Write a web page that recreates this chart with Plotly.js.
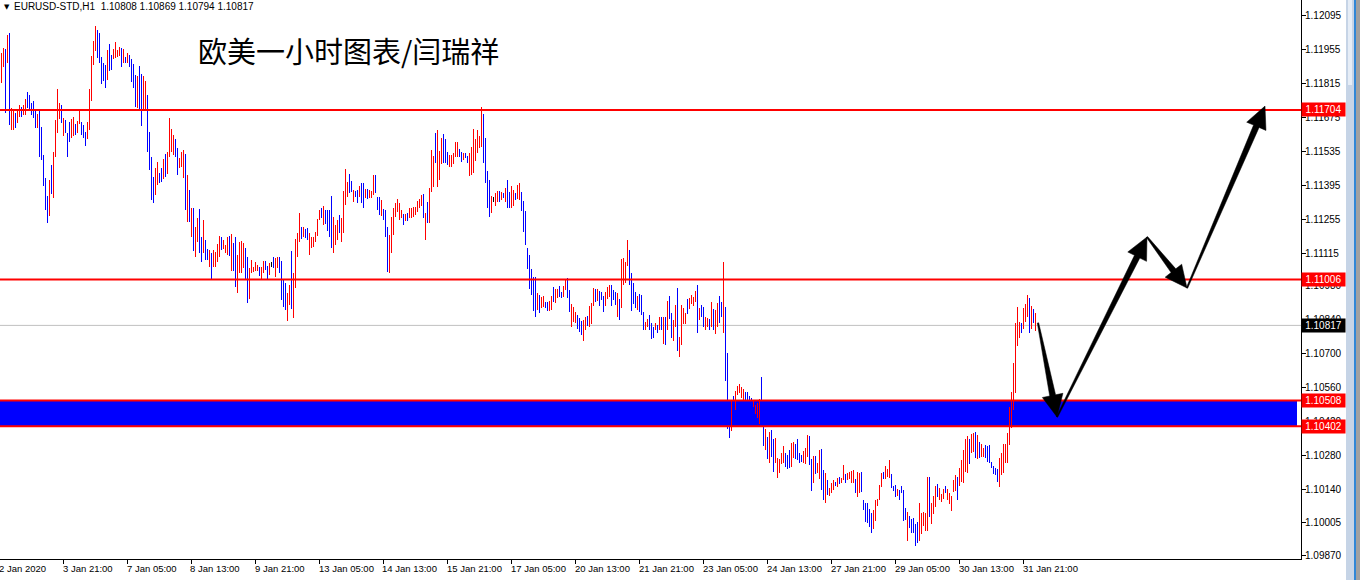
<!DOCTYPE html>
<html><head><meta charset="utf-8">
<script src="https://cdn.plot.ly/plotly-3.0.1.min.js"></script>
<style>html,body{margin:0;padding:0;background:#fff;overflow:hidden}#chart{width:1360px;height:580px}</style>
</head><body><div id="chart"></div>
<script>
// ---- data (EURUSD-STD, H1, bars from 2 Jan 2020) ----
const barHigh = [
1.11938,1.11958,1.11954,1.12013,1.12020,1.11711,1.11704,1.11691,1.11698,1.11725,
1.11715,1.11725,1.11748,1.11776,1.11766,1.11732,1.11739,1.11698,1.11688,1.11704,
1.11633,1.11519,1.11423,1.11350,1.11416,1.11478,1.11529,1.11663,1.11791,1.11732,
1.11725,1.11670,1.11663,1.11608,1.11656,1.11666,1.11674,1.11647,1.11660,1.11704,
1.11656,1.11643,1.11615,1.11656,1.11791,1.11927,1.11986,1.12048,1.12034,1.12023,
1.11924,1.11899,1.11890,1.11951,1.11976,1.11931,1.11954,1.11982,1.11949,1.11965,
1.11958,1.11954,1.11924,1.11938,1.11931,1.11913,1.11892,1.11849,1.11842,1.11886,
1.11853,1.11842,1.11825,1.11766,1.11615,1.11510,1.11430,1.11464,1.11488,1.11444,
1.11464,1.11501,1.11523,1.11533,1.11670,1.11625,1.11602,1.11584,1.11547,1.11505,
1.11529,1.11540,1.11523,1.11437,1.11375,1.11300,1.11300,1.11221,1.11258,1.11295,
1.11183,1.11252,1.11169,1.11131,1.11128,1.11117,1.11128,1.11121,1.11153,1.11186,
1.11183,1.11169,1.11149,1.11180,1.11186,1.11194,1.11158,1.11180,1.11107,1.11162,
1.11166,1.11158,1.11135,1.11098,1.11053,1.11087,1.11059,1.11080,1.11066,1.11057,
1.11059,1.11082,1.11082,1.11061,1.11072,1.11077,1.11100,1.11093,1.11100,1.11100,
1.11082,1.11004,1.10990,1.10952,1.10983,1.11125,1.11031,1.11171,1.11196,1.11281,
1.11223,1.11223,1.11214,1.11217,1.11196,1.11180,1.11182,1.11203,1.11254,1.11292,
1.11299,1.11309,1.11292,1.11292,1.11292,1.11350,1.11265,1.11230,1.11251,1.11271,
1.11258,1.11372,1.11461,1.11409,1.11440,1.11413,1.11374,1.11372,1.11374,1.11391,
1.11405,1.11402,1.11377,1.11377,1.11374,1.11372,1.11436,1.11436,1.11347,1.11344,
1.11333,1.11295,1.11292,1.11223,1.11189,1.11262,1.11299,1.11320,1.11336,1.11320,
1.11292,1.11276,1.11276,1.11278,1.11299,1.11302,1.11303,1.11303,1.11331,1.11336,
1.11354,1.11358,1.11281,1.11326,1.11381,1.11539,1.11514,1.11608,1.11621,1.11536,
1.11587,1.11605,1.11583,1.11532,1.11519,1.11519,1.11525,1.11573,1.11573,1.11542,
1.11532,1.11528,1.11525,1.11514,1.11525,1.11553,1.11624,1.11583,1.11621,1.11597,
1.11718,1.11687,1.11587,1.11454,1.11416,1.11350,1.11347,1.11363,1.11372,1.11372,
1.11368,1.11363,1.11381,1.11416,1.11368,1.11391,1.11374,1.11363,1.11395,1.11402,
1.11365,1.11330,1.11290,1.11135,1.11107,1.11048,1.11018,1.11015,1.10949,1.10942,
1.10935,1.10938,1.10915,1.10915,1.10919,1.10938,1.10974,1.10966,1.10966,1.10979,
1.10956,1.10979,1.11004,1.11011,1.10963,1.10905,1.10892,1.10874,1.10860,1.10846,
1.10837,1.10839,1.10850,1.10856,1.10897,1.10911,1.10970,1.10966,1.10966,1.10960,
1.10956,1.10938,1.10956,1.10977,1.10984,1.10984,1.10963,1.10956,1.10952,1.10925,
1.11089,1.11093,1.11080,1.11169,1.11128,1.11032,1.10990,1.10956,1.10938,1.10946,
1.10942,1.10874,1.10833,1.10842,1.10860,1.10828,1.10812,1.10826,1.10819,1.10850,
1.10850,1.10850,1.10850,1.10919,1.10938,1.10870,1.10839,1.10901,1.10970,1.10771,
1.10901,1.10887,1.10867,1.10925,1.10929,1.10942,1.10935,1.10959,1.10984,1.10887,
1.10901,1.10892,1.10850,1.10846,1.10842,1.10915,1.10883,1.10881,1.10911,1.10938,
1.10915,1.11080,1.10894,1.10705,1.10407,1.10507,1.10526,1.10547,1.10568,1.10576,
1.10565,1.10554,1.10544,1.10544,1.10526,1.10517,1.10510,1.10489,1.10499,1.10513,
1.10606,1.10400,1.10389,1.10359,1.10380,1.10386,1.10348,1.10352,1.10270,1.10266,
1.10290,1.10320,1.10293,1.10283,1.10304,1.10331,1.10338,1.10327,1.10348,1.10293,
1.10283,1.10301,1.10311,1.10366,1.10362,1.10266,1.10279,1.10279,1.10252,1.10304,
1.10307,1.10222,1.10211,1.10180,1.10146,1.10170,1.10180,1.10174,1.10187,1.10191,
1.10187,1.10242,1.10205,1.10211,1.10215,1.10219,1.10222,1.10183,1.10215,1.10211,
1.10215,1.10098,1.10087,1.10084,1.10060,1.10043,1.10057,1.10098,1.10101,1.10160,
1.10211,1.10215,1.10238,1.10224,1.10263,1.10205,1.10156,1.10160,1.10142,1.10139,
1.10156,1.10139,1.10064,1.10050,1.10032,1.10019,1.10023,1.09999,1.10009,1.10087,
1.10043,1.10050,1.10046,1.10194,1.10194,1.10087,1.10115,1.10156,1.10164,1.10146,
1.10123,1.10142,1.10156,1.10142,1.10128,1.10115,1.10180,1.10201,1.10191,1.10229,
1.10263,1.10304,1.10348,1.10362,1.10348,1.10370,1.10375,1.10380,1.10366,1.10338,
1.10329,1.10311,1.10325,1.10320,1.10325,1.10256,1.10238,1.10229,1.10224,1.10270,
1.10290,1.10329,1.10329,1.10373,1.10480,1.10544,1.10661,1.10828,1.10894,1.10832,
1.10826,1.10887,1.10905,1.10942,1.10929,1.10897,1.10883,1.10869
];
const barLow = [
1.11817,1.11883,1.11691,1.11897,1.11643,1.11622,1.11622,1.11629,1.11650,1.11677,
1.11677,1.11684,1.11684,1.11711,1.11704,1.11684,1.11670,1.11629,1.11629,1.11510,
1.11499,1.11389,1.11293,1.11238,1.11268,1.11359,1.11341,1.11512,1.11608,1.11667,
1.11650,1.11597,1.11608,1.11510,1.11574,1.11588,1.11597,1.11602,1.11608,1.11647,
1.11602,1.11588,1.11556,1.11585,1.11622,1.11739,1.11890,1.11945,1.11917,1.11897,
1.11811,1.11825,1.11796,1.11828,1.11866,1.11869,1.11913,1.11917,1.11921,1.11928,
1.11883,1.11897,1.11897,1.11897,1.11880,1.11821,1.11794,1.11718,1.11711,1.11704,
1.11636,1.11704,1.11698,1.11533,1.11455,1.11334,1.11323,1.11354,1.11396,1.11402,
1.11409,1.11419,1.11430,1.11441,1.11512,1.11533,1.11519,1.11510,1.11437,1.11464,
1.11471,1.11423,1.11293,1.11241,1.11241,1.11183,1.11125,1.11098,1.11162,1.11114,
1.11076,1.11117,1.11087,1.11087,1.11059,1.11007,1.11059,1.11059,1.11080,1.11098,
1.11128,1.11131,1.11114,1.11107,1.11101,1.11039,1.11039,1.10974,1.10952,1.11032,
1.11032,1.11053,1.11004,1.10911,1.10925,1.11032,1.11035,1.11039,1.11039,1.11021,
1.11004,1.11031,1.11045,1.11007,1.11024,1.11059,1.11052,1.11018,1.11052,1.11031,
1.10921,1.10894,1.10880,1.10836,1.10901,1.10883,1.10846,1.10970,1.11100,1.11162,
1.11171,1.11182,1.11175,1.11169,1.11107,1.11134,1.11141,1.11162,1.11185,1.11251,
1.11258,1.11230,1.11234,1.11207,1.11182,1.11134,1.11114,1.11148,1.11169,1.11196,
1.11162,1.11196,1.11313,1.11344,1.11361,1.11368,1.11326,1.11347,1.11320,1.11347,
1.11322,1.11299,1.11340,1.11337,1.11340,1.11343,1.11354,1.11361,1.11292,1.11271,
1.11267,1.11251,1.11182,1.11038,1.11031,1.11114,1.11189,1.11262,1.11285,1.11251,
1.11258,1.11230,1.11248,1.11248,1.11258,1.11258,1.11265,1.11271,1.11285,1.11299,
1.11309,1.11258,1.11169,1.11237,1.11240,1.11368,1.11385,1.11484,1.11388,1.11416,
1.11481,1.11484,1.11484,1.11477,1.11470,1.11470,1.11481,1.11512,1.11512,1.11512,
1.11491,1.11498,1.11505,1.11484,1.11432,1.11436,1.11446,1.11495,1.11525,1.11546,
1.11553,1.11487,1.11402,1.11299,1.11265,1.11278,1.11326,1.11309,1.11326,1.11326,
1.11333,1.11340,1.11326,1.11299,1.11299,1.11299,1.11309,1.11333,1.11336,1.11333,
1.11290,1.11200,1.11148,1.11048,1.10966,1.10942,1.10876,1.10850,1.10881,1.10867,
1.10887,1.10894,1.10887,1.10878,1.10878,1.10881,1.10915,1.10908,1.10929,1.10935,
1.10929,1.10935,1.10963,1.10929,1.10874,1.10809,1.10833,1.10828,1.10801,1.10791,
1.10778,1.10754,1.10796,1.10815,1.10812,1.10823,1.10897,1.10915,1.10919,1.10897,
1.10922,1.10874,1.10897,1.10925,1.10935,1.10897,1.10922,1.10901,1.10850,1.10839,
1.10887,1.10984,1.10990,1.11062,1.10984,1.10878,1.10905,1.10887,1.10881,1.10874,
1.10860,1.10796,1.10796,1.10809,1.10798,1.10760,1.10764,1.10796,1.10785,1.10798,
1.10796,1.10741,1.10736,1.10798,1.10842,1.10764,1.10754,1.10812,1.10713,1.10688,
1.10736,1.10823,1.10823,1.10864,1.10883,1.10905,1.10897,1.10915,1.10787,1.10839,
1.10853,1.10812,1.10798,1.10812,1.10796,1.10812,1.10798,1.10782,1.10809,1.10828,
1.10850,1.10787,1.10586,1.10389,1.10352,1.10384,1.10476,1.10469,1.10531,1.10537,
1.10517,1.10510,1.10503,1.10496,1.10496,1.10496,1.10483,1.10452,1.10435,1.10411,
1.10496,1.10321,1.10304,1.10266,1.10249,1.10277,1.10215,1.10249,1.10187,1.10208,
1.10246,1.10252,1.10235,1.10226,1.10229,1.10233,1.10270,1.10266,1.10263,1.10249,
1.10256,1.10249,1.10246,1.10277,1.10242,1.10137,1.10170,1.10205,1.10211,1.10183,
1.10139,1.10098,1.10084,1.10119,1.10115,1.10126,1.10139,1.10156,1.10150,1.10164,
1.10167,1.10180,1.10167,1.10180,1.10183,1.10167,1.10170,1.10126,1.10112,1.10128,
1.10132,1.10057,1.10009,1.10002,1.09986,1.09964,1.09977,1.10013,1.10073,1.10098,
1.10150,1.10183,1.10183,1.10194,1.10187,1.10146,1.10137,1.10112,1.10115,1.10098,
1.10128,1.10013,1.10016,1.09931,1.09981,1.09964,1.09961,1.09909,1.09920,1.09931,
1.09958,1.09991,1.09972,1.09972,1.10030,1.09999,1.10041,1.10071,1.10112,1.10098,
1.10091,1.10101,1.10128,1.10098,1.10082,1.10054,1.10132,1.10137,1.10098,1.10156,
1.10174,1.10167,1.10215,1.10211,1.10246,1.10290,1.10297,1.10270,1.10266,1.10270,
1.10274,1.10274,1.10270,1.10256,1.10252,1.10229,1.10205,1.10201,1.10174,1.10153,
1.10201,1.10208,1.10252,1.10252,1.10325,1.10393,1.10469,1.10540,1.10732,1.10764,
1.10784,1.10801,1.10832,1.10853,1.10784,1.10801,1.10826,1.10794
];
// u = bull bar (red), d = bear bar (blue), n = unchanged (black)
const barDirection =
"uududuuduu"+"duudddddud"+"dddduduuuu"+"duddduuduu"+"ddduuuuudd"+
"dddudduuuu"+"dududdddud"+"duudddduud"+"duduuuuddu"+"uudududuud"+
"dudduduuuu"+"duuududduu"+"uudduuuuud"+"uuddunduud"+"ddduuduuuu"+
"dudduuuuuu"+"dudddduuud"+"uuuudduddu"+"dduduuuddd"+"uddduuuuuu"+
"ududuuuuuu"+"ududuuuduu"+"uddduuuuud"+"dudduuuuuu"+"uddddunuud"+
"ududduuduu"+"ddddddddud"+"uudduuduud"+"duudduuudd"+"duuduuudud"+
"dduuudddud"+"uuuuddddud"+"dduudddudu"+"dududduudu"+"uuuduuuudu"+
"dduududuud"+"duddduduuu"+"uudddduuuu"+"ddududduuu"+"uuddduuddd"+
"duuudduduu"+"dduduuudud"+"uuduuuuduu"+"dddddduuuu"+"uduuudddud"+
"dddudddddu"+"uuuuduuudu"+"uuduuuuudu"+"uuuuduudud"+"uudddddddu"+
"uuuuuuuuuu"+"duuududu";

const headerSymbol = "EURUSD-STD,H1";
const lastOHLC = [1.10808, 1.10869, 1.10794, 1.10817];
const chartTitle = "欧美一小时图表/闫瑞祥";
const xTickLabels = ["2 Jan 2020","3 Jan 21:00","7 Jan 05:00","8 Jan 13:00","9 Jan 21:00",
  "13 Jan 05:00","14 Jan 13:00","15 Jan 21:00","17 Jan 05:00","20 Jan 13:00","21 Jan 21:00",
  "23 Jan 05:00","24 Jan 13:00","27 Jan 21:00","29 Jan 05:00","30 Jan 13:00","31 Jan 21:00"];
const barsPerXTick = 32;
const yTickValues = [1.12095,1.11955,1.11815,1.11675,1.11535,1.11395,1.11255,1.11115,1.10980,
  1.10840,1.10700,1.10560,1.10420,1.10280,1.10140,1.10005,1.09870];
const levelLines = [1.11704, 1.11006, 1.10508, 1.10402];
const zoneBounds = [1.10402, 1.10508];
const bidPrice = 1.10817;
// hand-drawn forecast arrows: waypoints (bar index, price)
const arrowBar   = [519.25, 528.75, 573.75, 593.75, 632.75];
const arrowPrice = [1.10827, 1.10440, 1.11181, 1.10971, 1.11720];

// ---- layout geometry ----
const PW = 1301, PH = 559;
const xRange = [0.25, 650.75];
const yRange = [1.098551, 1.121568];
const n = Math.min(barHigh.length, barLow.length, barDirection.length);
const xs = [], bases = [], lens = [], cols = [];
const colorFor = {u:'#ff0000', d:'#0000ff', n:'#000000'};
for (let i = 0; i < n; i++) {
  xs.push(i + 1); bases.push(barLow[i]); lens.push(barHigh[i] - barLow[i]);
  cols.push(colorFor[barDirection[i]] || '#000');
}
const trace = {type:'bar', x:xs, base:bases, y:lens, width:0.5,
  marker:{color:cols, line:{width:0}}, hoverinfo:'skip'};

const pxX = p => p / PW, pxY = p => 1 - p / PH;
const toPx = (x, y) => [(x - xRange[0]) / (xRange[1] - xRange[0]) * PW, (yRange[1] - y) / (yRange[1] - yRange[0]) * PH];
const toData = (px, py) => [xRange[0] + px / PW * (xRange[1] - xRange[0]), yRange[1] - py / PH * (yRange[1] - yRange[0])];

const shapes = [];
shapes.push({type:'rect', layer:'below', xref:'paper', yref:'y', x0:0, x1:pxX(1297),
  y0:zoneBounds[0], y1:zoneBounds[1], fillcolor:'#0000ff', line:{width:0}});
shapes.push({type:'line', layer:'below', xref:'paper', yref:'y', x0:0, x1:1, y0:bidPrice, y1:bidPrice,
  line:{color:'#c0c0c0', width:1}});
levelLines.forEach(v => shapes.push({type:'line', layer:'above', xref:'paper', yref:'y', x0:0, x1:1,
  y0:v, y1:v, line:{color:'#ff0000', width:2}}));
for (let k = 0; k + 1 < arrowBar.length; k++) {
  const [tx, ty] = toPx(arrowBar[k], arrowPrice[k]);
  const [hx, hy] = toPx(arrowBar[k+1], arrowPrice[k+1]);
  const dx = hx - tx, dy = hy - ty, L = Math.hypot(dx, dy);
  const ux = dx / L, uy = dy / L, nx = -uy, ny = ux;
  const hl = 22, hw = 10.5, sw = 3, tw = 0.7;
  const bx = hx - ux * hl, by = hy - uy * hl;
  const pts = [[tx + nx*tw, ty + ny*tw], [bx + nx*sw, by + ny*sw], [bx + nx*hw, by + ny*hw], [hx, hy],
               [bx - nx*hw, by - ny*hw], [bx - nx*sw, by - ny*sw], [tx - nx*tw, ty - ny*tw]];
  const d = pts.map((p, j) => { const q = toData(p[0], p[1]); return (j ? 'L' : 'M') + q[0] + ',' + q[1]; }).join(' ') + ' Z';
  shapes.push({type:'path', layer:'above', xref:'x', yref:'y', path:d, fillcolor:'#000', line:{color:'#000', width:0.5}});
}
shapes.push({type:'rect', xref:'paper', yref:'paper', x0:pxX(1346), x1:pxX(1354), y0:pxY(580), y1:pxY(0), fillcolor:'#c6d4e6', line:{width:0}});
shapes.push({type:'rect', xref:'paper', yref:'paper', x0:pxX(1348), x1:pxX(1352), y0:pxY(85), y1:pxY(0), fillcolor:'#e6edf6', line:{width:0}});
shapes.push({type:'rect', xref:'paper', yref:'paper', x0:pxX(1354), x1:pxX(1356), y0:pxY(580), y1:pxY(0), fillcolor:'#2f86d6', line:{width:0}});
shapes.push({type:'rect', xref:'paper', yref:'paper', x0:pxX(1356), x1:pxX(1360), y0:pxY(580), y1:pxY(0), fillcolor:'#a0a0a0', line:{width:0}});

const FONT = 'Liberation Sans, Arial, sans-serif';
const annotations = [];
annotations.push({xref:'paper', yref:'paper', x:pxX(2), y:pxY(7), xanchor:'left', yanchor:'middle',
  text:'▼', showarrow:false, font:{family:'DejaVu Sans', size:7, color:'#000'}});
annotations.push({xref:'paper', yref:'paper', x:pxX(12), y:pxY(7), xanchor:'left', yanchor:'middle',
  text: headerSymbol + '\u00a0\u00a0' + lastOHLC.map(v => v.toFixed(5)).join(' '), showarrow:false,
  font:{family:FONT, size:10, color:'#000'}});
annotations.push({xref:'paper', yref:'paper', x:pxX(348), y:pxY(50), xanchor:'center', yanchor:'middle',
  text: chartTitle, showarrow:false, font:{family:'Noto Sans CJK SC', size:29, color:'#000'}});
xTickLabels.forEach((t, k) => {
  const [px] = toPx(k * barsPerXTick, yRange[0]);
  annotations.push({xref:'paper', yref:'paper', x:pxX(px), y:pxY(568), xanchor:'left', yanchor:'middle',
    xshift:-3, text:t, showarrow:false, font:{family:FONT, size:9.5, color:'#000'}});
});
const priceBox = (v, bg) => ({xref:'paper', yref:'y', x:1, y:v, xanchor:'left', yanchor:'middle', xshift:0,
  text: v.toFixed(5), showarrow:false, bgcolor:bg, width:41, height:11, borderpad:1,
  font:{family:FONT, size:10, color:'#fff'}});
levelLines.forEach(v => annotations.push(priceBox(v, '#ff0000')));
annotations.push(priceBox(bidPrice, '#000000'));

const layout = {
  width:1360, height:580, margin:{l:0, r:59, t:0, b:21, pad:0},
  paper_bgcolor:'#fff', plot_bgcolor:'#fff', showlegend:false, bargap:0,
  xaxis:{range:xRange, showgrid:false, zeroline:false, showline:true, linecolor:'#000', linewidth:1,
    ticks:'outside', ticklen:4, tickcolor:'#000', tickmode:'array',
    tickvals: xTickLabels.map((t, k) => k * barsPerXTick), showticklabels:false, fixedrange:true},
  yaxis:{range:yRange, side:'right', showgrid:false, zeroline:false, showline:true, linecolor:'#000', linewidth:1,
    ticks:'outside', ticklen:4, tickcolor:'#000', tickmode:'array', tickvals:yTickValues, ticklabelstandoff:-3,
    ticktext: yTickValues.map(v => v.toFixed(5)), tickfont:{family:FONT, size:10, color:'#000'}, fixedrange:true},
  shapes: shapes, annotations: annotations
};
Plotly.newPlot('chart', [trace], layout, {displayModeBar:false, staticPlot:true});
</script>
</body></html>
